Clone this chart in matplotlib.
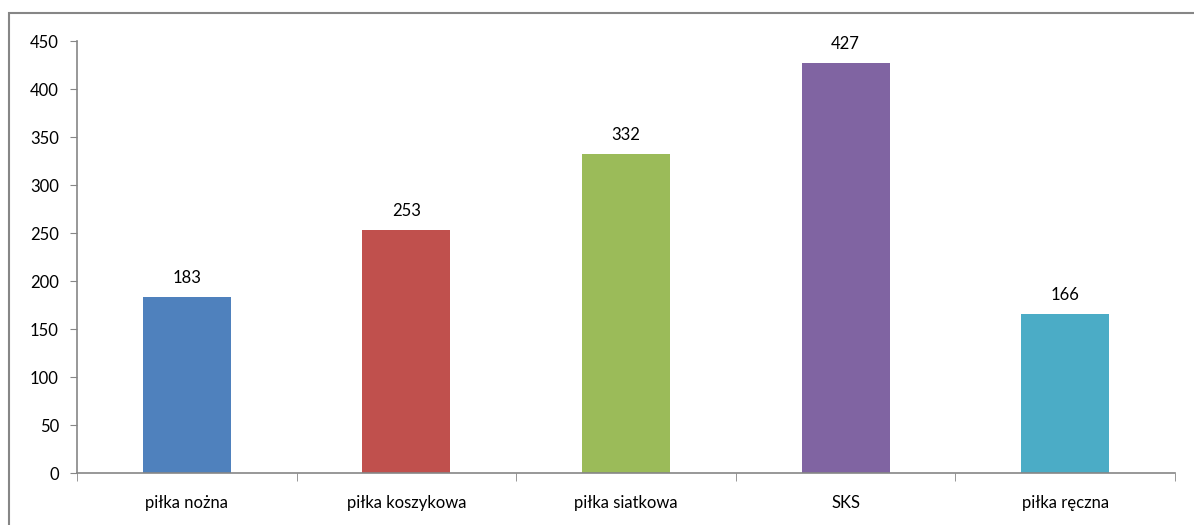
import matplotlib.pyplot as plt
import matplotlib.patches as patches
import numpy as np

categories = ['piłka nożna', 'piłka koszykowa', 'piłka siatkowa', 'SKS', 'piłka ręczna']
values = [183, 253, 332, 427, 166]
colors = ['#4F81BD', '#C0504D', '#9BBB59', '#8064A2', '#4BACC6']

plt.rcParams['font.family'] = ['Lato', 'DejaVu Sans']
axis_color = '#868686'

fig = plt.figure(figsize=(11.94, 5.25), dpi=100)
ax = fig.add_axes([77 / 1194, 1 - 473 / 525, (1175 - 77) / 1194, (473 - 41) / 525])

x = np.arange(len(categories))
ax.bar(x, values, width=0.4, color=colors, zorder=2)
for xi, v in zip(x, values):
    ax.annotate(str(v), (xi, v), xytext=(0, 8), textcoords='offset points',
                ha='center', va='bottom', fontsize=12)

ax.set_xlim(-0.5, len(categories) - 0.5)
ax.set_ylim(0, 450)
ax.set_yticks(np.arange(0, 451, 50))
ax.set_xticks(x)
ax.set_xticklabels(categories, fontsize=12)
ax.set_xticks(np.arange(-0.5, len(categories), 1), minor=True)
ax.tick_params(axis='x', which='major', length=0, pad=16)
ax.tick_params(axis='x', which='minor', length=6, color=axis_color, direction='out')
ax.tick_params(axis='y', length=5, color=axis_color, labelsize=12, pad=8)

for side in ['top', 'right']:
    ax.spines[side].set_visible(False)
for side in ['left', 'bottom']:
    ax.spines[side].set_color(axis_color)
    ax.spines[side].set_linewidth(1.2)

# chart area border (runs off the right and bottom edges)
fig.patches.append(patches.Rectangle((9 / 1194, -0.1), 1.2, 1 - 13 / 525 + 0.1,
                                     transform=fig.transFigure, fill=False,
                                     edgecolor=axis_color, linewidth=1.5))

fig.savefig('out.png', dpi=100)
